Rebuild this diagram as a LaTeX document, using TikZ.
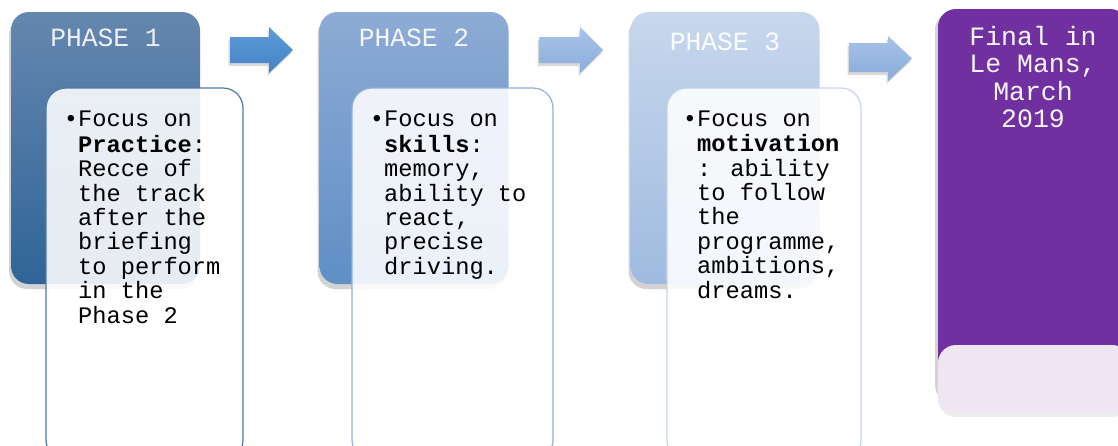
\documentclass[tikz,border=0pt]{standalone}
\usepackage{fontspec}
\newfontfamily\cour{Liberation Mono}
\usetikzlibrary{shadows}
\definecolor{pa1t}{HTML}{6587AF}
\definecolor{pa1b}{HTML}{306498}
\definecolor{pa2t}{HTML}{8DABD5}
\definecolor{pa2b}{HTML}{5F8FC6}
\definecolor{pa3t}{HTML}{C7D7ED}
\definecolor{pa3b}{HTML}{A0BBDF}
\definecolor{bd1}{HTML}{4C79AD}
\definecolor{bd2}{HTML}{8DB0DC}
\definecolor{bd3}{HTML}{C3D4EC}
\definecolor{ar1t}{HTML}{5C9BD8}
\definecolor{ar1b}{HTML}{4683C6}
\definecolor{ar2t}{HTML}{A9C5E9}
\definecolor{ar2b}{HTML}{8BAEDC}
\definecolor{ar3t}{HTML}{A6C2E8}
\definecolor{ar3b}{HTML}{89ABD9}
\definecolor{purp}{HTML}{7030A0}
\definecolor{lav}{HTML}{EFE6F4}
\tikzset{
  phasebox/.style={rounded corners=18pt, minimum width=189pt, minimum height=272pt, inner sep=0pt,
    drop shadow={opacity=0.35, shadow xshift=-2pt, shadow yshift=-5pt}},
  textbox/.style={rounded corners=20pt, fill=white, fill opacity=0.88, line width=1.2pt,
    minimum height=372pt, inner sep=0pt},
  phaselabel/.style={font=\cour\fontsize{26.3}{27}\selectfont, text=white, inner sep=0pt, anchor=base},
  bodytext/.style={font=\cour\fontsize{23.7}{24.4}\selectfont, align=left, inner sep=0pt, anchor=north west},
  finaltext/.style={font=\cour\fontsize{26.5}{27.2}\selectfont, align=center, text=white!95!purp, inner sep=0pt, anchor=north},
}
\newcommand{\blockarr}[8]{% left, bodytop, bodybot, headx, headtop, headbot, tipx, colors
  \shade[#8, drop shadow={opacity=0.3, shadow xshift=-1.5pt, shadow yshift=-3pt}]
    (#1,#2) -- (#4,#2) -- (#4,#5) -- (#7,{(#5+#6)/2}) -- (#4,#6) -- (#4,#3) -- (#1,#3) -- cycle;}
\begin{document}
\begin{tikzpicture}[x=1pt,y=-1pt]
\useasboundingbox (0,0) rectangle (1118,445);
\clip (0,0) rectangle (1118,445);
% phase boxes
\node[phasebox, top color=pa1t, bottom color=pa1b] (p1) at (105.5,148) {};
\node[phasebox, top color=pa2t, bottom color=pa2b] (p2) at (414,148) {};
\node[phasebox, top color=pa3t, bottom color=pa3b] (p3) at (725,148) {};
\node[phaselabel, text=white!88!pa1t] (l1) at (105.5,46.7) {PHASE 1};
\node[phaselabel, text=white!90!pa2t] (l2) at (414,46.7) {PHASE 2};
\node[phaselabel, text=white!95!pa3t] (l3) at (725,50) {PHASE 3};
% final box
\node[rounded corners=18pt, fill=purp, minimum width=190pt, minimum height=391pt, inner sep=0pt,
  drop shadow={opacity=0.35, shadow xshift=-3pt, shadow yshift=-3pt}] (p4) at (1033,204.5) {};
\node[rounded corners=18pt, fill=lav, minimum width=192pt, minimum height=68pt, inner sep=0pt,
  drop shadow={opacity=0.15, shadow xshift=0pt, shadow yshift=-4pt}] (t4) at (1034,379) {};
\node[finaltext] (f4) at (1033,26.3) {Final in\\Le Mans,\\March\\2019};
% arrows
\blockarr{230}{37}{63}{269}{27}{73}{293}{top color=ar1t, bottom color=ar1b}
\blockarr{539}{37}{63}{580}{27}{73}{603}{top color=ar2t, bottom color=ar2b}
\blockarr{849}{43}{72}{888}{36}{81}{912}{top color=ar3t, bottom color=ar3b}
% text boxes
\node[textbox, draw=bd1, minimum width=197pt] (t1) at (144.5,274) {};
\node[textbox, draw=bd2, minimum width=201pt] (t2) at (452.5,274) {};
\node[textbox, draw=bd3, minimum width=194pt] (t3) at (764,274) {};
\node[bodytext] (b1) at (78,109.6) {\strut\llap{\textbullet}Focus on\\\textbf{Practice}:\\Recce of\\the track\\after the\\briefing\\to perform\\in the\\Phase 2};
\node[bodytext] (b2) at (384,109.6) {\strut\llap{\textbullet}Focus on\\\textbf{skills}:\\memory,\\ability to\\react,\\precise\\driving.};
\node[bodytext] (b3) at (697,109.0) {\strut\llap{\textbullet}Focus on\\\textbf{motivation}\\: ability\\to follow\\the\\programme,\\ambitions,\\dreams.};
\end{tikzpicture}
\end{document}
